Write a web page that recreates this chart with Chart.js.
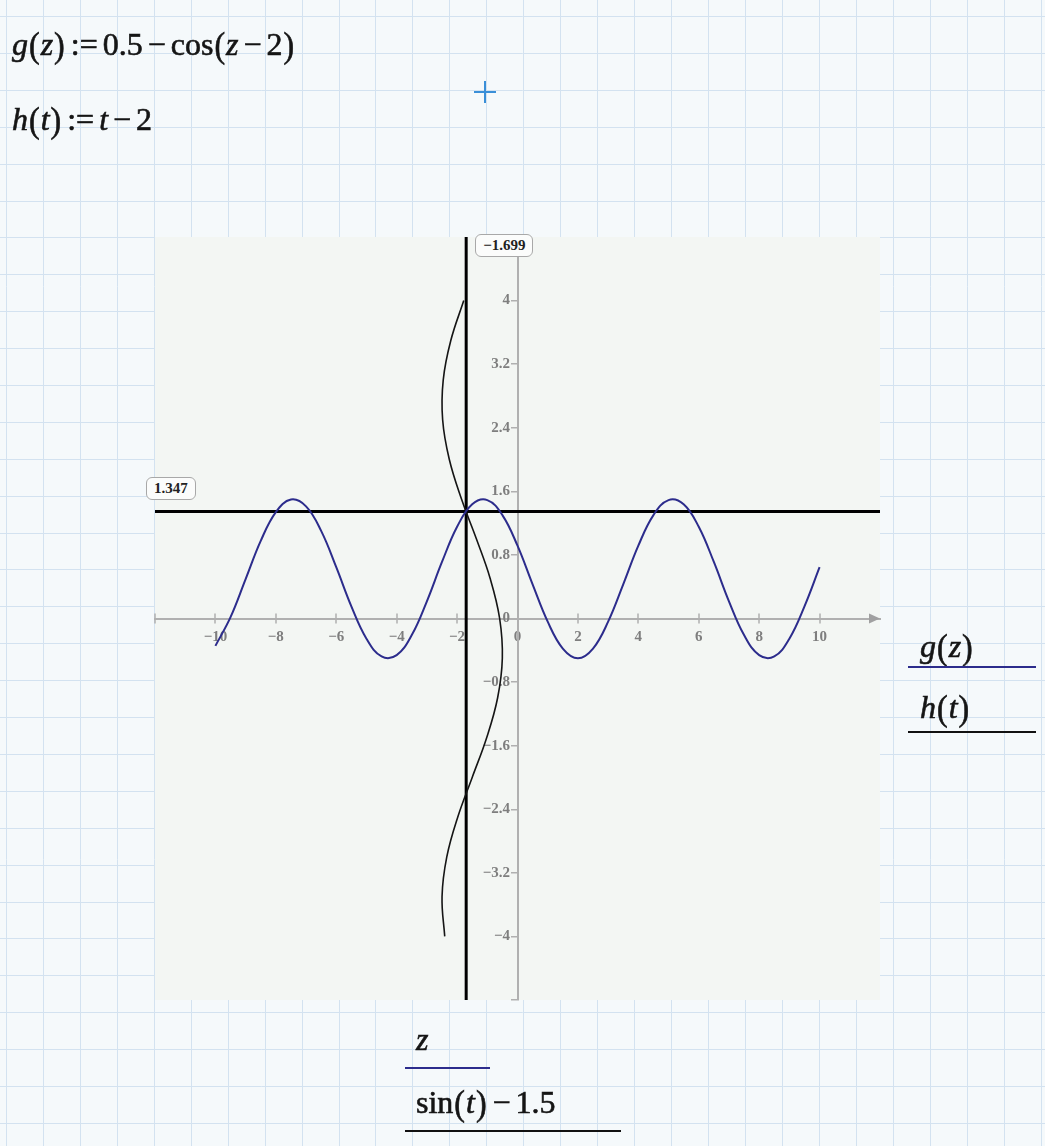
<!DOCTYPE html>
<html>
<head>
<meta charset="utf-8">
<script src="https://cdn.jsdelivr.net/npm/chart.js@4/dist/chart.umd.min.js"></script>
<style>
  html, body { margin: 0; padding: 0; background: #f5f9fb; }
  #wrap { position: relative; width: 1045px; height: 1146px; overflow: hidden; }
  #plot { position: absolute; left: 0; top: 0; }
  .math { position: absolute; font-family: "Liberation Serif", "DejaVu Serif", serif; font-size: 32px; line-height: 32px; color: #151515; white-space: nowrap; -webkit-text-stroke: 0.6px #151515; }
  .math i { font-style: italic; }
  .p { display: inline-block; transform: scale(1, 1.15); margin: 0 1px; }
  .op { margin: 0 5px; }
  .tag { position: absolute; font: bold 15px "Liberation Serif", serif; color: #222; border: 1.5px solid #a8a8a8; border-radius: 6px; background: #fbfcfb; padding: 3px 7px; line-height: 15px; }
  .key { position: absolute; height: 2px; }
  .cross { position: absolute; background: #3a8fd8; }
</style>
</head>
<body>
<div id="wrap">
  <canvas id="plot" width="1045" height="1146"></canvas>

  <div class="math" style="left:12px; top:28px;"><i>g</i><span class="p">(</span><i>z</i><span class="p">)</span><span class="op">:=</span>0.5<span class="op">−</span>cos<span class="p">(</span><i>z</i><span class="op">−</span>2<span class="p">)</span></div>
  <div class="math" style="left:12px; top:103px;"><i>h</i><span class="p">(</span><i>t</i><span class="p">)</span><span class="op">:=</span><i>t</i><span class="op">−</span>2</div>

  <div class="cross" style="left:474px; top:91px; width:22px; height:2px;"></div>
  <div class="cross" style="left:484px; top:81px; width:2px; height:22px;"></div>

  <div class="math" style="left:920px; top:630px;"><i>g</i><span class="p">(</span><i>z</i><span class="p">)</span></div>
  <div class="key" style="left:908px; top:666px; width:128px; background:#2c2c8c;"></div>
  <div class="math" style="left:920px; top:691px;"><i>h</i><span class="p">(</span><i>t</i><span class="p">)</span></div>
  <div class="key" style="left:908px; top:731px; width:128px; background:#111;"></div>

  <div class="math" style="left:416px; top:1023px;"><i>z</i></div>
  <div class="key" style="left:405px; top:1067px; width:85px; background:#2c2c8c;"></div>
  <div class="math" style="left:416px; top:1086px;">sin<span class="p">(</span><i>t</i><span class="p">)</span><span class="op">−</span>1.5</div>
  <div class="key" style="left:405px; top:1130px; width:216px; background:#111;"></div>

  <div class="tag" id="tagH"></div>
  <div class="tag" id="tagV"></div>
</div>

<script>
// g(z) trace, z from -10 to 10
const zValues = [-10, -9.5, -9, -8.5, -8, -7.5, -7, -6.5, -6, -5.5, -5, -4.5, -4, -3.5, -3, -2.5, -2, -1.5, -1, -0.5,
  0, 0.5, 1, 1.5, 2, 2.5, 3, 3.5, 4, 4.5, 5, 5.5, 6, 6.5, 7, 7.5, 8, 8.5, 9, 9.5, 10];
const gValues = [-0.344, 0.017, 0.496, 0.976, 1.339, 1.497, 1.411, 1.102, 0.646, 0.153, -0.254, -0.477, -0.460, -0.209,
  0.216, 0.711, 1.154, 1.437, 1.490, 1.301, 0.916, 0.429, -0.040, -0.378, -0.500, -0.378, -0.040, 0.429, 0.916, 1.301,
  1.490, 1.437, 1.154, 0.711, 0.216, -0.209, -0.460, -0.477, -0.254, 0.153, 0.646];

// h(t) on the vertical axis against sin(t) - 1.5 on the horizontal one
const sinValues = [-2.409, -2.498, -2.341, -1.979, -1.5, -1.021, -0.659, -0.502, -0.591, -0.902, -1.359, -1.851,
  -2.257, -2.478, -2.459, -2.206, -1.779];
const hValues = [-4, -3.5, -3, -2.5, -2, -1.5, -1, -0.5, 0, 0.5, 1, 1.5, 2, 2.5, 3, 3.5, 4];

// markers
const markerX = -1.699;
const markerY = 1.347;

const xTicks = [-12, -10, -8, -6, -4, -2, 0, 2, 4, 6, 8, 10, 12];
const yTicks = [-4.8, -4, -3.2, -2.4, -1.6, -0.8, 0, 0.8, 1.6, 2.4, 3.2, 4, 4.8];
const xMin = -12, xMax = 12, yMin = -4.8, yMax = 4.8;

const fmt = v => String(Math.round(v * 10) / 10).replace('-', '−');
const tickFont = { family: '"Liberation Serif", serif', size: 15, weight: 'bold' };
const axisGrey = '#b0b0b0';

const sheet = {
  id: 'sheet',
  beforeDraw(chart) {
    const { ctx, width, height, chartArea: a } = chart;
    ctx.save();
    ctx.fillStyle = '#f5f9fb';
    ctx.fillRect(0, 0, width, height);
    ctx.strokeStyle = '#d3e2f0';
    ctx.lineWidth = 1;
    ctx.beginPath();
    for (let x = 6; x < width; x += 36.95) {
      const px = Math.round(x) + 0.5;
      ctx.moveTo(px, 0); ctx.lineTo(px, height);
    }
    for (let y = 16; y < height; y += 36.9) {
      const py = Math.round(y) + 0.5;
      ctx.moveTo(0, py); ctx.lineTo(width, py);
    }
    ctx.stroke();
    ctx.fillStyle = '#f3f6f3';
    ctx.fillRect(a.left, a.top, a.right - a.left, a.bottom - a.top);
    ctx.restore();
  },
  beforeDatasetsDraw(chart) {
    // x tick marks cross the axis, arrow head at its end
    const { ctx, chartArea: a } = chart;
    const xs = chart.scales.x;
    const y0 = chart.scales.y.getPixelForValue(0);
    ctx.save();
    ctx.strokeStyle = axisGrey;
    ctx.lineWidth = 1.5;
    ctx.beginPath();
    xs.ticks.forEach(t => {
      const px = Math.round(xs.getPixelForValue(t.value));
      if (px >= a.right - 2) return;
      ctx.moveTo(px, y0 - 5); ctx.lineTo(px, y0 + 5);
    });
    ctx.stroke();
    ctx.fillStyle = '#a0a0a0';
    ctx.beginPath();
    ctx.moveTo(a.right, y0);
    ctx.lineTo(a.right - 11, y0 - 5);
    ctx.lineTo(a.right - 11, y0 + 5);
    ctx.closePath();
    ctx.fill();
    ctx.restore();
  }
};

const chart = new Chart(document.getElementById('plot'), {
  type: 'scatter',
  data: {
    datasets: [
      {
        label: 'g(z)',
        data: zValues.map((z, i) => ({ x: z, y: gValues[i] })),
        showLine: true, borderColor: '#2c2c8c', borderWidth: 2, pointRadius: 0, tension: 0.4
      },
      {
        label: 'h(t)',
        data: sinValues.map((s, i) => ({ x: s, y: hValues[i] })),
        showLine: true, borderColor: '#151515', borderWidth: 1.6, pointRadius: 0, tension: 0.4
      },
      {
        label: 'marker x',
        data: [{ x: markerX, y: yMin }, { x: markerX, y: yMax }],
        showLine: true, borderColor: '#000', borderWidth: 3, pointRadius: 0
      },
      {
        label: 'marker y',
        data: [{ x: xMin, y: markerY }, { x: xMax, y: markerY }],
        showLine: true, borderColor: '#000', borderWidth: 3, pointRadius: 0
      }
    ]
  },
  options: {
    responsive: false,
    devicePixelRatio: 1,
    animation: false,
    events: [],
    layout: { padding: { left: 155, right: 165, top: 237, bottom: 146 } },
    plugins: { legend: { display: false }, tooltip: { enabled: false } },
    scales: {
      x: {
        type: 'linear', min: xMin, max: xMax, position: { y: 0 },
        afterBuildTicks: s => { s.ticks = xTicks.map(v => ({ value: v })); },
        afterFit: s => { s.height = 0; },
        ticks: { color: '#7e7e7e', font: tickFont, padding: 10, autoSkip: false, maxRotation: 0,
          callback: v => (Math.abs(v) > 11 ? '' : fmt(v)) },
        grid: { drawOnChartArea: false, drawTicks: false },
        border: { color: axisGrey, width: 2 }
      },
      y: {
        type: 'linear', min: yMin, max: yMax, position: { x: 0 },
        afterBuildTicks: s => { s.ticks = yTicks.map(v => ({ value: v })); },
        afterFit: s => { s.width = 0; },
        ticks: { color: '#7e7e7e', font: tickFont, autoSkip: false,
          callback: v => (Math.abs(v) > 4.5 ? '' : fmt(v) + '\u2002') },
        grid: { drawOnChartArea: false, drawTicks: true, tickLength: 6, color: axisGrey, lineWidth: 1.5 },
        border: { color: axisGrey, width: 2 }
      }
    }
  },
  plugins: [sheet]
});

const xs = chart.scales.x, ys = chart.scales.y;
const tagH = document.getElementById('tagH');
tagH.textContent = markerY.toFixed(3);
tagH.style.left = (xs.left - 9) + 'px';
tagH.style.top = (ys.getPixelForValue(markerY) - 34) + 'px';
const tagV = document.getElementById('tagV');
tagV.textContent = markerX.toFixed(3).replace('-', '−');
tagV.style.left = (xs.getPixelForValue(markerX) + 9) + 'px';
tagV.style.top = (ys.top - 3) + 'px';
</script>
</body>
</html>
